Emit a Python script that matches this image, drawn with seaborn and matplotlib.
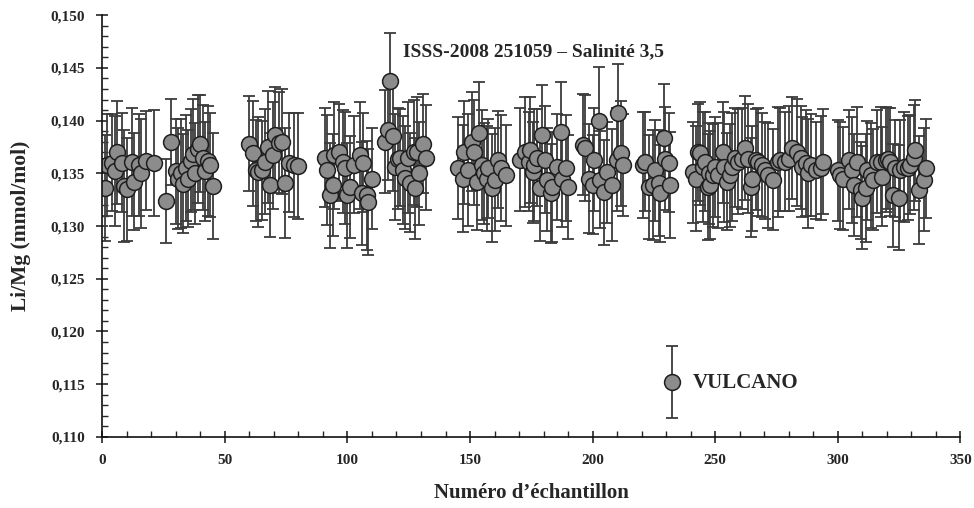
"""Li/Mg ratios, ISSS-2008 251059 standard"""

import matplotlib
matplotlib.use("Agg")
import matplotlib.pyplot as plt
from matplotlib.ticker import FuncFormatter, MultipleLocator
import pandas as pd
import seaborn as sns

# sample number, Li/Mg (mmol/mol), 1-sigma error - one line per run
sample_x = [
    1, 2, 4, 5, 6, 8, 9, 10, 12, 13, 15, 16, 18, 21,
    26, 28, 30, 31, 32, 33, 34, 35, 36, 37, 38, 39, 40, 41, 42, 43, 44, 45,
    60, 61.5, 62.5, 63.5, 65, 66.5, 67.5, 68.5, 69.5, 70.5, 72, 73.5, 74.5, 76, 78, 80,
    91, 91.5, 93, 94, 94.5, 96.5, 98, 99, 100, 101, 102.5, 105, 106, 106.5, 108, 108.5, 110,
    115.5, 116.5, 117.5, 118.5, 119.5, 120.5, 121.5, 122.5, 123.5, 124.5, 125.5, 127, 127.5,
    128.5, 129, 131, 132,
    145, 147, 147.5, 149, 151, 151.5, 153, 153.5, 155, 155.5, 157, 157.5, 159, 160, 161.5,
    162.5, 164.5,
    170.5, 172.5, 174, 174.5, 175.5, 176, 177.5, 178.5, 179.5, 180.5, 181.5, 183, 183.5,
    185.5, 187, 187.5, 189, 190,
    196, 197, 198.5, 200, 200.5, 202.5, 203, 204.5, 206, 208, 210, 210.5, 211.5, 212.5,
    220.5, 221.5, 223, 224.5, 225.5, 227, 227.5, 229, 229.5, 231, 231.5,
    241, 242, 243, 244, 245, 246, 247, 247.5, 248, 249, 250, 251, 253, 253.5, 255, 256, 257,
    258, 259.5, 261, 262, 263.5, 264.5, 265, 266.5, 267.5, 269, 270.5, 271.5, 273.5, 275.5,
    276.5, 278.5, 280, 281.5, 283.5, 285, 285.5, 287, 288, 289, 291, 293, 294,
    300, 301, 302, 304.5, 306, 306.5, 308, 309.5, 310, 311.5, 312, 313.5, 314.5, 316, 317.5,
    318, 319.5, 320.5, 321.5, 322.5, 323.5, 325, 325.5, 327, 328.5, 329.5, 331, 331.5, 333,
    335, 336,
]
li_mg = [
    0.1336, 0.1358, 0.1360, 0.1352, 0.1370, 0.1360, 0.1338, 0.1335, 0.1361, 0.1342, 0.1358,
    0.1350, 0.1362, 0.1360,
    0.1324, 0.1380, 0.1352, 0.1345, 0.1350, 0.1340, 0.1355, 0.1345, 0.1362, 0.1368, 0.1350,
    0.1373, 0.1378, 0.1365, 0.1352, 0.1362, 0.1358, 0.1338,
    0.1378, 0.1369, 0.1353, 0.1351, 0.1353, 0.1361, 0.1375, 0.1339, 0.1367, 0.1386, 0.1379,
    0.1380, 0.1341, 0.1360, 0.1358, 0.1357,
    0.1365, 0.1353, 0.1329, 0.1339, 0.1367, 0.1370, 0.1361, 0.1355, 0.1329, 0.1337, 0.1358,
    0.1367, 0.1331, 0.1360, 0.1329, 0.1323, 0.1345,
    0.1380, 0.1391, 0.1438, 0.1385, 0.1356, 0.1364, 0.1365, 0.1353, 0.1346, 0.1365, 0.1341,
    0.1370, 0.1336, 0.1370, 0.1350, 0.1378, 0.1365,
    0.1355, 0.1345, 0.1370, 0.1353, 0.1380, 0.1370, 0.1342, 0.1388, 0.1358, 0.1350, 0.1345,
    0.1355, 0.1336, 0.1344, 0.1363, 0.1355, 0.1348,
    0.1363, 0.1370, 0.1361, 0.1372, 0.1351, 0.1358, 0.1365, 0.1336, 0.1386, 0.1363, 0.1344,
    0.1331, 0.1337, 0.1356, 0.1389, 0.1345, 0.1355, 0.1337,
    0.1377, 0.1374, 0.1345, 0.1339, 0.1363, 0.1400, 0.1344, 0.1332, 0.1351, 0.1339, 0.1363,
    0.1407, 0.1369, 0.1358,
    0.1358, 0.1361, 0.1337, 0.1339, 0.1353, 0.1341, 0.1331, 0.1384, 0.1364, 0.1360, 0.1339,
    0.1351, 0.1345, 0.1370, 0.1369, 0.1356, 0.1361, 0.1337, 0.1350, 0.1339, 0.1348, 0.1356,
    0.1348, 0.1370, 0.1356, 0.1342, 0.1348, 0.1356, 0.1365, 0.1361, 0.1364, 0.1374, 0.1364,
    0.1337, 0.1345, 0.1363, 0.1361, 0.1358, 0.1353, 0.1348, 0.1344, 0.1361, 0.1363, 0.1361,
    0.1364, 0.1374, 0.1370, 0.1365, 0.1356, 0.1360, 0.1350, 0.1358, 0.1353, 0.1355, 0.1361,
    0.1353, 0.1348, 0.1345, 0.1363, 0.1353, 0.1339, 0.1361, 0.1334, 0.1327, 0.1336, 0.1353,
    0.1348, 0.1344, 0.1361, 0.1361, 0.1347, 0.1363, 0.1364, 0.1361, 0.1329, 0.1355, 0.1327,
    0.1353, 0.1356, 0.1355, 0.1358, 0.1365, 0.1372, 0.1334, 0.1344, 0.1355,
]
li_mg_err = [
    0.0050, 0.0048, 0.0046, 0.0052, 0.0049, 0.0047, 0.0053, 0.0049, 0.0051, 0.0046, 0.0048,
    0.0052, 0.0047, 0.0050,
    0.0040, 0.0041, 0.0050, 0.0048, 0.0052, 0.0047, 0.0050, 0.0046, 0.0049, 0.0053, 0.0048,
    0.0051, 0.0046, 0.0050, 0.0047, 0.0052, 0.0049, 0.0050,
    0.0045, 0.0050, 0.0048, 0.0052, 0.0047, 0.0050, 0.0053, 0.0049, 0.0051, 0.0046, 0.0048,
    0.0050, 0.0052, 0.0047, 0.0049, 0.0050,
    0.0047, 0.0052, 0.0050, 0.0048, 0.0051, 0.0046, 0.0049, 0.0053, 0.0050, 0.0048, 0.0046,
    0.0051, 0.0049, 0.0047, 0.0052, 0.0050, 0.0048,
    0.0049, 0.0047, 0.0045, 0.0052, 0.0050, 0.0048, 0.0046, 0.0051, 0.0049, 0.0053, 0.0047,
    0.0050, 0.0048, 0.0052, 0.0049, 0.0047, 0.0050,
    0.0048, 0.0051, 0.0049, 0.0053, 0.0047, 0.0050, 0.0046, 0.0049, 0.0052, 0.0048, 0.0050,
    0.0047, 0.0051, 0.0049, 0.0046, 0.0050, 0.0048,
    0.0049, 0.0052, 0.0047, 0.0050, 0.0048, 0.0053, 0.0046, 0.0050, 0.0048, 0.0051, 0.0049,
    0.0047, 0.0052, 0.0050, 0.0048, 0.0046, 0.0050, 0.0049,
    0.0048, 0.0050, 0.0052, 0.0047, 0.0049, 0.0051, 0.0046, 0.0050, 0.0048, 0.0053, 0.0049,
    0.0047, 0.0050, 0.0048,
    0.0050, 0.0047, 0.0049, 0.0052, 0.0048, 0.0050, 0.0046, 0.0051, 0.0049, 0.0047, 0.0050,
    0.0048, 0.0050, 0.0046, 0.0049, 0.0052, 0.0047, 0.0050, 0.0048, 0.0051, 0.0049, 0.0047,
    0.0050, 0.0048, 0.0052, 0.0046, 0.0049, 0.0051, 0.0047, 0.0050, 0.0048, 0.0049, 0.0052,
    0.0047, 0.0050, 0.0048, 0.0051, 0.0049, 0.0046, 0.0050, 0.0048, 0.0052, 0.0049, 0.0047,
    0.0050, 0.0048, 0.0051, 0.0049, 0.0047, 0.0050, 0.0052, 0.0048, 0.0046, 0.0049, 0.0050,
    0.0048, 0.0051, 0.0049, 0.0047, 0.0050, 0.0048, 0.0052, 0.0046, 0.0049, 0.0051, 0.0047,
    0.0050, 0.0048, 0.0049, 0.0052, 0.0047, 0.0050, 0.0048, 0.0051, 0.0049, 0.0046, 0.0050,
    0.0048, 0.0052, 0.0049, 0.0047, 0.0050, 0.0048, 0.0051, 0.0049, 0.0047,
]
vulcano_x = [232.5]
vulcano_y = [0.1152]
vulcano_err = [0.0034]

FILL = "#8c8c8c"
EDGE = "#1e1e1e"
BAR = "#3c3c3c"


def comma_fmt(val, pos):
    """Decimal comma, three decimals"""
    return f"{val:.3f}".replace(".", ",")


def draw(ax, df):
    """Error bars first, then the markers on top"""
    ax.errorbar(df["x"], df["y"], yerr=df["err"], fmt="none", ecolor=BAR,
                elinewidth=1.3, capsize=4, capthick=1.3, zorder=1)
    sns.scatterplot(data=df, x="x", y="y", s=130, color=FILL, edgecolor=EDGE,
                    linewidth=1.1, ax=ax, zorder=2, legend=False)


def main() -> None:
    """Main function"""
    sns.set_style("ticks")
    plt.rcParams["font.family"] = ["Liberation Serif", "DejaVu Serif"]
    plt.rcParams["font.weight"] = "bold"

    data = pd.DataFrame({"x": sample_x, "y": li_mg, "err": li_mg_err})
    vulc = pd.DataFrame({"x": vulcano_x, "y": vulcano_y, "err": vulcano_err})

    fig, ax = plt.subplots(figsize=(9.74, 5.08), dpi=100)
    fig.subplots_adjust(left=0.105, right=0.986, top=0.97, bottom=0.14)

    draw(ax, data)
    draw(ax, vulc)

    ax.set_xlim(0, 350)
    ax.set_ylim(0.110, 0.150)
    ax.xaxis.set_major_locator(MultipleLocator(50))
    ax.xaxis.set_minor_locator(MultipleLocator(10))
    ax.yaxis.set_major_locator(MultipleLocator(0.005))
    ax.yaxis.set_minor_locator(MultipleLocator(0.001))
    ax.yaxis.set_major_formatter(FuncFormatter(comma_fmt))
    ax.tick_params(which="major", direction="inout", length=9, width=1.2,
                   labelsize=11, pad=8)
    ax.tick_params(which="minor", direction="in", length=4, width=1)
    for lab in ax.get_xticklabels() + ax.get_yticklabels():
        lab.set_fontweight("bold")
    sns.despine(ax=ax)
    for side in ("left", "bottom"):
        ax.spines[side].set_linewidth(1.2)
        ax.spines[side].set_color("#111111")

    ax.set_xlabel("Numéro d’échantillon", fontsize=15, fontweight="bold",
                  labelpad=11)
    ax.set_ylabel("Li/Mg (mmol/mol)", fontsize=15.5, fontweight="bold",
                  labelpad=14)

    ax.text(122.8, 0.1465, "ISSS-2008 251059 – Salinité 3,5", fontsize=14,
            fontweight="bold", va="center", ha="left")
    ax.text(241, 0.1151, "VULCANO", fontsize=15, fontweight="bold",
            va="center", ha="left")

    fig.savefig("out.png", dpi=100)


if __name__ == "__main__":
    main()
